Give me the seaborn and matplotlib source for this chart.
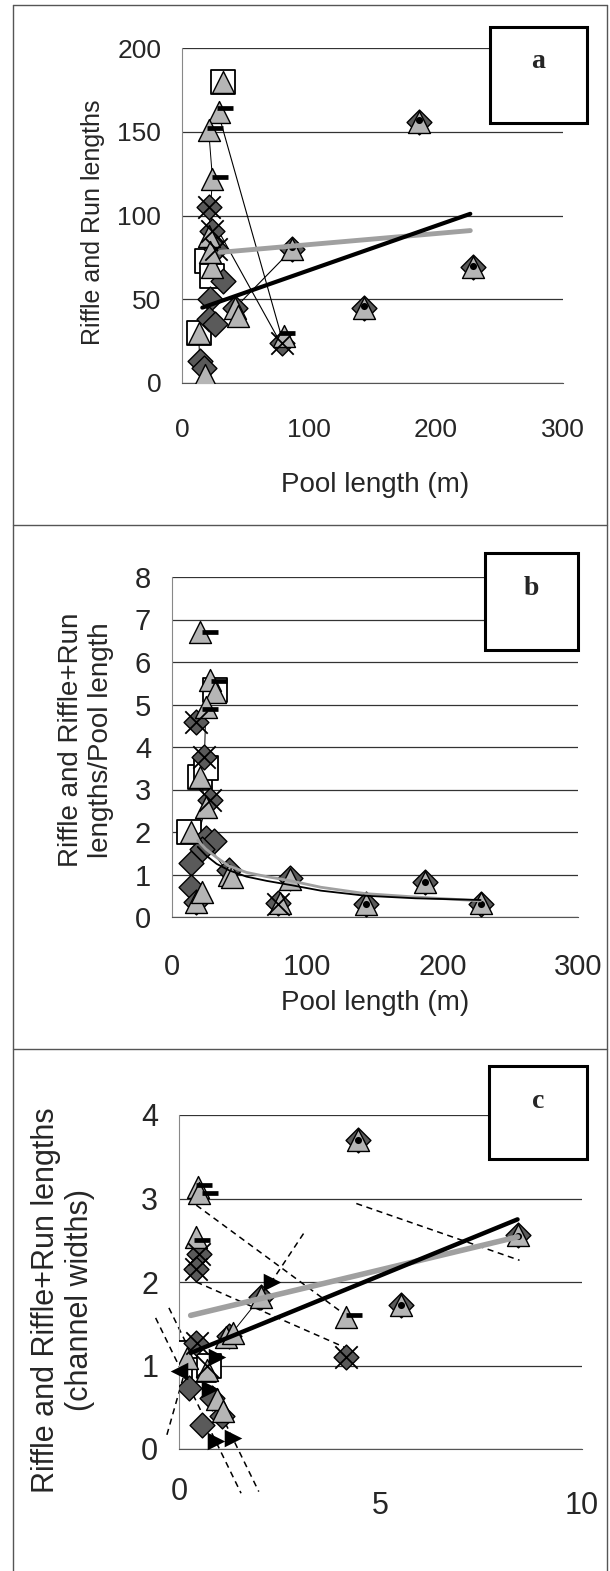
import numpy as np
import pandas as pd
import matplotlib
matplotlib.use("Agg")
import matplotlib.pyplot as plt
import seaborn as sns
from matplotlib.patches import Rectangle
from matplotlib.lines import Line2D
from matplotlib.transforms import ScaledTranslation

# ---------------- data: panel a ----------------
a_diam_x = [21, 24, 27, 32, 22, 21, 26, 14, 17, 87, 229, 187, 143, 79, 42]
a_diam_y = [105, 91, 80, 61, 50, 38, 35, 13, 9, 80, 69, 156, 45, 24, 45]
a_tri_x = [32, 29, 21, 24, 21, 24, 22, 13, 18, 42, 44, 87, 229, 187, 143, 80]
a_tri_y = [180, 162, 151, 122, 88, 69, 78, 30, 5, 45, 40, 80, 69, 156, 45, 28]
a_sq_x = [32, 20, 13, 24]
a_sq_y = [180, 73, 30, 64]
a_x_x = [21, 24, 79, 27]
a_x_y = [105, 91, 24, 80]
a_dash_x = [34, 26, 30, 83]
a_dash_y = [164, 152, 123, 30]
a_dot_x = [187, 229, 143, 87]
a_dot_y = [157, 70, 46, 81]
a_fit_x = [16, 227]
a_fit_y = [45, 101]
a_fit2_x = [30, 227]
a_fit2_y = [78, 91]
a_thin1_x = [29, 79]
a_thin1_y = [160, 26]
a_thin2_x = [22, 79]
a_thin2_y = [100, 22]
a_thin3_x = [42, 87]
a_thin3_y = [45, 80]
a_chain_x = [18, 14, 13, 20, 22, 24, 21, 24, 21]
a_chain_y = [5, 13, 30, 40, 50, 69, 88, 122, 151]

# ---------------- data: panel b ----------------
b_diam_x = [18, 24, 28, 25, 31, 14, 42, 87, 78, 143, 187, 228, 14, 18, 22]
b_diam_y = [4.6, 3.77, 2.76, 1.85, 1.8, 1.26, 1.1, 0.92, 0.32, 0.3, 0.82, 0.3, 0.7, 0.35, 1.6]
b_tri_x = [21, 28, 32, 25, 21, 25, 14, 42, 44, 87, 80, 143, 187, 228, 18, 22]
b_tri_y = [6.7, 5.58, 5.3, 4.95, 3.3, 2.6, 2.0, 1.0, 0.93, 0.9, 0.32, 0.3, 0.82, 0.33, 0.35, 0.6]
b_sq_x = [32, 21, 12.5, 25]
b_sq_y = [5.35, 3.3, 2.0, 3.5]
b_x_x = [18, 24, 28, 78]
b_x_y = [4.6, 3.77, 2.76, 0.3]
b_dash_x = [28, 35, 28]
b_dash_y = [6.7, 5.55, 4.9]
b_dot_x = [143, 187, 228]
b_dot_y = [0.3, 0.82, 0.3]
b_fit_x = [19, 25, 33, 42, 55, 70, 88, 110, 143, 180, 228]
b_fit_y = [1.65, 1.45, 1.25, 1.1, 0.95, 0.85, 0.75, 0.62, 0.5, 0.44, 0.4]
b_fit2_x = [19, 25, 33, 42, 55, 70, 88, 110, 143, 180, 228]
b_fit2_y = [1.8, 1.6, 1.4, 1.2, 1.05, 0.95, 0.85, 0.7, 0.55, 0.47, 0.38]
b_chain_x = [28, 25, 24, 21, 25, 20, 42]
b_chain_y = [5.58, 4.95, 3.77, 3.3, 2.6, 2.0, 1.0]

# ---------------- data: panel c ----------------
c_diam_x = [0.5, 0.43, 0.43, 1.25, 4.15, 0.24, 0.82, 1.06, 0.57, 4.44, 8.4, 5.5, 2.03]
c_diam_y = [2.34, 2.16, 1.27, 1.35, 1.1, 0.73, 0.61, 0.39, 0.29, 3.7, 2.56, 1.72, 1.82]
c_tri_x = [0.48, 0.5, 0.43, 2.03, 4.15, 1.16, 1.35, 0.19, 0.7, 0.95, 4.44, 8.4, 5.5, 1.1]
c_tri_y = [3.14, 3.06, 2.54, 1.82, 1.58, 1.34, 1.39, 1.09, 0.95, 0.6, 3.7, 2.56, 1.72, 0.45]
c_sq_x = [0.2, 0.63, 0.75]
c_sq_y = [1.15, 0.95, 1.0]
c_x_x = [0.5, 0.43, 4.15, 0.45, 0.7]
c_x_y = [2.34, 2.16, 1.1, 1.27, 1.0]
c_dash_x = [0.63, 0.76, 0.56, 4.35]
c_dash_y = [3.16, 3.07, 2.5, 1.6]
c_dot_x = [4.44, 8.4, 5.5]
c_dot_y = [3.7, 2.55, 1.72]
c_arr_r_x = [2.3, 0.95, 0.92, 1.35, 0.78]
c_arr_r_y = [2.0, 1.1, 0.09, 0.13, 0.72]
c_arr_l_x = [0.0]
c_arr_l_y = [0.93]
c_fit_x = [0.29, 8.4]
c_fit_y = [1.15, 2.75]
c_fit2_x = [0.29, 8.4]
c_fit2_y = [1.6, 2.54]
c_thin_x = [1.25, 2.03]
c_thin_y = [1.35, 1.82]
c_dashed = [
    ([0.43, 4.2], [2.92, 1.58]),
    ([0.43, 4.1], [2.0, 1.22]),
    ([4.4, 8.45], [2.94, 2.26]),
    ([3.09, 2.25], [2.58, 1.97]),
    ([-0.25, 1.98], [1.69, -0.51]),
    ([-0.58, 1.54], [1.57, -0.53]),
    ([-0.3, 0.1], [0.17, 0.85]),
]

# ---------------- style ----------------
sns.set_style("white")
plt.rcParams['font.family'] = ['Liberation Sans', 'DejaVu Sans']

W, H = 610, 1571
fig = plt.figure(figsize=(W / 100, H / 100), dpi=100)


def px_axes(l, t, r, b):
    return fig.add_axes([l / W, 1 - b / H, (r - l) / W, (b - t) / H])


DIAM = dict(marker='D', s=160, color='#5a5a5a', edgecolor='black', linewidth=1.0, zorder=4)
TRI = dict(marker='^', s=250, color='#b5b5b5', edgecolor='black', linewidth=1.0, zorder=5)
SQ = dict(marker='s', s=280, color='white', edgecolor='black', linewidth=1.3, zorder=3)
XM = dict(marker='x', s=260, color='black', linewidth=1.3, zorder=6)
DASH = dict(marker='_', s=120, color='black', linewidth=3.4, zorder=7)
DOT = dict(marker='o', s=26, color='black', linewidth=0, zorder=7)


def markers(ax, d, t, sq, xx, da, do):
    sns.scatterplot(x=sq[0], y=sq[1], ax=ax, **SQ)
    sns.scatterplot(x=d[0], y=d[1], ax=ax, **DIAM)
    sns.scatterplot(x=t[0], y=t[1], ax=ax, **TRI)
    sns.scatterplot(x=xx[0], y=xx[1], ax=ax, **XM)
    sns.scatterplot(x=da[0], y=da[1], ax=ax, **DASH)
    sns.scatterplot(x=do[0], y=do[1], ax=ax, **DOT)


def line(ax, x, y, **kw):
    sns.lineplot(x=x, y=y, ax=ax, estimator=None, sort=False, **kw)


def style_axes(ax, xt, yt, lab):
    ax.set_xticks(xt)
    ax.set_yticks(yt)
    ax.grid(axis='y', color='#333333', linewidth=0.9)
    ax.grid(axis='x', visible=False)
    ax.set_axisbelow(True)
    for s in ['top', 'right']:
        ax.spines[s].set_visible(False)
    ax.spines['left'].set_color('#888888')
    ax.spines['bottom'].set_color('#555555')
    ax.tick_params(axis='y', direction='out', length=8, width=1, color='#444444',
                   pad=7, labelsize=lab)
    ax.tick_params(axis='x', direction='out', length=6, width=1, color='#444444',
                   pad=19, labelsize=lab)
    ax.set_xlabel('')
    ax.set_ylabel('')


# ---------------- panel a ----------------
axA = px_axes(182, 48, 563, 383)
line(axA, a_chain_x, a_chain_y, color='black', linewidth=0.7, zorder=2)
line(axA, a_thin1_x, a_thin1_y, color='black', linewidth=0.8, zorder=2)
line(axA, a_thin2_x, a_thin2_y, color='black', linewidth=0.8, zorder=2)
line(axA, a_thin3_x, a_thin3_y, color='black', linewidth=0.8, zorder=2)
markers(axA, (a_diam_x, a_diam_y), (a_tri_x, a_tri_y), (a_sq_x, a_sq_y),
        (a_x_x, a_x_y), (a_dash_x, a_dash_y), (a_dot_x, a_dot_y))
line(axA, a_fit2_x, a_fit2_y, color='#a0a0a0', linewidth=3.5, zorder=8)
line(axA, a_fit_x, a_fit_y, color='black', linewidth=3.0, zorder=9)
axA.set_xlim(0, 300)
axA.set_ylim(0, 200)
style_axes(axA, [0, 100, 200, 300], [0, 50, 100, 150, 200], 19)

# ---------------- panel b ----------------
axB = px_axes(172, 577, 578, 917)
line(axB, b_chain_x, b_chain_y, color='black', linewidth=0.7, zorder=2)
markers(axB, (b_diam_x, b_diam_y), (b_tri_x, b_tri_y), (b_sq_x, b_sq_y),
        (b_x_x, b_x_y), (b_dash_x, b_dash_y), (b_dot_x, b_dot_y))
line(axB, b_fit2_x, b_fit2_y, color='#a0a0a0', linewidth=2.0, zorder=8)
line(axB, b_fit_x, b_fit_y, color='black', linewidth=1.3, zorder=9)
axB.set_xlim(0, 300)
axB.set_ylim(0, 8)
style_axes(axB, [0, 100, 200, 300], list(range(0, 9)), 21)
axB.tick_params(axis='x', pad=20)

# ---------------- panel c ----------------
axC = px_axes(179, 1115, 582, 1449)
for dx, dy in c_dashed:
    line(axC, dx, dy, color='black', linewidth=1.1, linestyle=(0, (4, 3)),
         zorder=2, clip_on=False)
line(axC, c_thin_x, c_thin_y, color='black', linewidth=0.7, zorder=2)
markers(axC, (c_diam_x, c_diam_y), (c_tri_x, c_tri_y), (c_sq_x, c_sq_y),
        (c_x_x, c_x_y), (c_dash_x, c_dash_y), (c_dot_x, c_dot_y))
sns.scatterplot(x=c_arr_r_x, y=c_arr_r_y, ax=axC, marker='>', s=160,
                color='black', linewidth=0, zorder=10, clip_on=False)
sns.scatterplot(x=c_arr_l_x, y=c_arr_l_y, ax=axC, marker='<', s=160,
                color='black', linewidth=0, zorder=10, clip_on=False)
line(axC, c_fit2_x, c_fit2_y, color='#a0a0a0', linewidth=4.0, zorder=8)
line(axC, c_fit_x, c_fit_y, color='black', linewidth=3.2, zorder=9)
axC.set_xlim(0, 10)
axC.set_ylim(0, 4)
style_axes(axC, [0, 5, 10], [0, 1, 2, 3, 4], 22)
axC.tick_params(axis='x', pad=14)
for lab in axC.get_xticklabels()[1:]:
    lab.set_transform(lab.get_transform() + ScaledTranslation(0, -14 / 100, fig.dpi_scale_trans))

# ---------------- labels ----------------
fig.text(93 / W, 1 - 222 / H, 'Riffle and Run lengths', rotation=90,
         ha='center', va='center', fontsize=18)
fig.text(375 / W, 1 - 485 / H, 'Pool length (m)', ha='center', va='center', fontsize=20)
fig.text(86 / W, 1 - 740 / H, 'Riffle and Riffle+Run\nlengths/Pool length', rotation=90,
         ha='center', va='center', fontsize=20, linespacing=1.2)
fig.text(375 / W, 1 - 1003 / H, 'Pool length (m)', ha='center', va='center', fontsize=20)
fig.text(63 / W, 1 - 1300 / H, 'Riffle and Riffle+Run lengths\n(channel widths)', rotation=90,
         ha='center', va='center', fontsize=22, linespacing=1.2)

# panel letter boxes
for (l, t, r, b, letter) in [(490, 27, 587, 123, 'a'), (485, 553, 578, 650, 'b'),
                             (489, 1066, 587, 1159, 'c')]:
    fig.add_artist(Rectangle((l / W, 1 - b / H), (r - l) / W, (b - t) / H,
                             transform=fig.transFigure, facecolor='white',
                             edgecolor='black', linewidth=2.2, zorder=20))
    fig.text((l + r) / 2 / W, 1 - (t + 35) / H, letter, family='Liberation Serif',
             weight='bold', fontsize=20, ha='center', va='center', zorder=21)

# outer frame and separators
fc = '#555555'
for xs, ys in [([13, 607], [5, 5]), ([13, 13], [5, 1571]), ([607, 607], [5, 1571]),
               ([13, 607], [525, 525]), ([13, 607], [1049, 1049])]:
    fig.add_artist(Line2D([x / W for x in xs], [1 - y / H for y in ys],
                          transform=fig.transFigure, color=fc, linewidth=1.0))

fig.savefig('out.png', dpi=100)
